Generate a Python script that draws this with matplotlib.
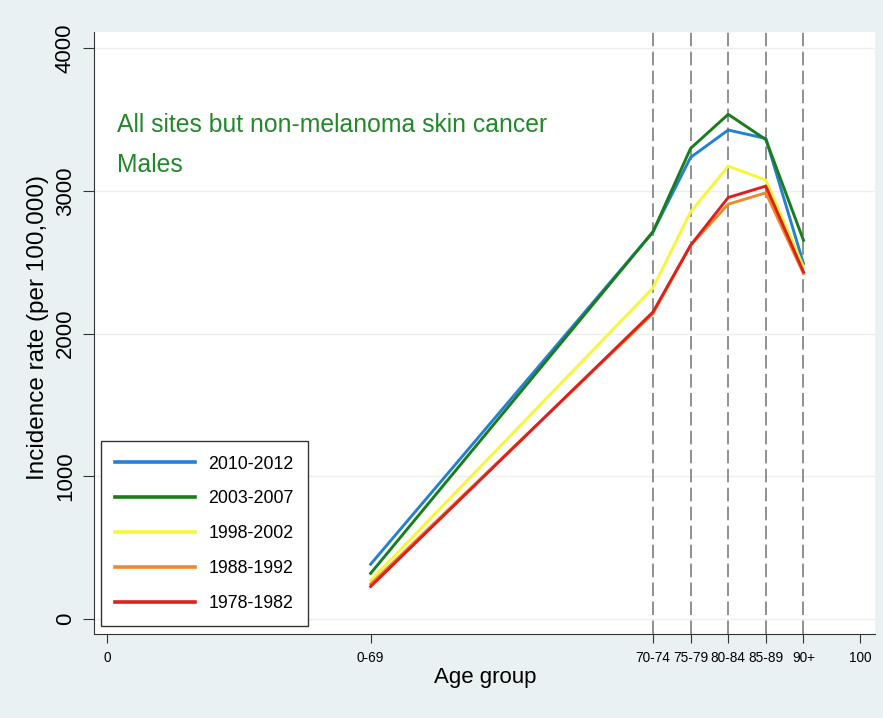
import numpy as np
import matplotlib
matplotlib.use('Agg')
import matplotlib.pyplot as plt

plt.rcParams['font.family'] = ['Liberation Sans', 'DejaVu Sans']

# age group positions on the numeric axis and their labels
age_pos = [35, 72.5, 77.5, 82.5, 87.5, 92.5]
age_labels = ['0-69', '70-74', '75-79', '80-84', '85-89', '90+']

periods = ['2010-2012', '2003-2007', '1998-2002', '1988-1992', '1978-1982']
rate_2010 = [384, 2713, 3235, 3427, 3368, 2491]
rate_2003 = [320, 2713, 3298, 3537, 3360, 2654]
rate_1998 = [270, 2320, 2853, 3174, 3076, 2467]
rate_1988 = [245, 2140, 2619, 2907, 2987, 2421]
rate_1978 = [228, 2151, 2619, 2954, 3034, 2432]

series = [rate_2010, rate_2003, rate_1998, rate_1988, rate_1978]
colors = ['#2281d4', '#1a7d1a', '#f7f73a', '#ef8a2a', '#e01e1e']

W, H = 883, 718
L, R, T, B = 94, 875, 32, 634
fig = plt.figure(figsize=(W / 100, H / 100), dpi=100)
fig.patch.set_facecolor('#eaf1f3')
ax = fig.add_axes([L / W, (H - B) / H, (R - L) / W, (B - T) / H])
ax.set_facecolor('white')

ax.set_xlim(-1.75, 102)
ax.set_ylim(-105, 4114)

for v in [0, 1000, 2000, 3000, 4000]:
    ax.axhline(v, color='#eeeeee', lw=1.0, zorder=1)

for xp in age_pos[1:]:
    ax.axvline(xp, color='#888888', lw=1.3, ls=(0, (7.5, 3.0)), zorder=2)

for vals, col, lab in zip(series, colors, periods):
    ax.plot(age_pos, vals, color=col, lw=2.1, label=lab, zorder=3)

for s in ['top', 'right']:
    ax.spines[s].set_visible(False)
ax.spines['left'].set_color('#333333')
ax.spines['bottom'].set_color('#333333')

ax.set_yticks([0, 1000, 2000, 3000, 4000])
ax.set_yticklabels(['0', '1000', '2000', '3000', '4000'], rotation=90, va='center', fontsize=16)
ax.tick_params(axis='y', length=8, pad=5, color='#333333')

ax.set_xticks([0] + age_pos + [100])
ax.set_xticklabels(['0'] + age_labels + ['100'], fontsize=9.8)
ax.tick_params(axis='x', length=6.5, pad=6, color='#333333')

fig.text(485 / W, (H - 683) / H, 'Age group', fontsize=16, ha='center', va='baseline')
fig.text(38 / W, (H - 327.5) / H, 'Incidence rate (per 100,000)', fontsize=17.5,
         rotation=90, ha='center', va='center')

ax.text(0.0294, 0.834, 'All sites but non-melanoma skin cancer', transform=ax.transAxes,
        color='#22882a', fontsize=17.8, va='baseline')
ax.text(0.0294, 0.767, 'Males', transform=ax.transAxes,
        color='#22882a', fontsize=17.8, va='baseline')

leg = ax.legend(loc='lower left', bbox_to_anchor=(6.7 / (R - L), 8 / (B - T)), borderaxespad=0,
                fontsize=12.8, handlelength=4.5, handletextpad=0.75, labelspacing=1.0,
                borderpad=0.8, fancybox=False, edgecolor='#333333', framealpha=1)
leg.get_frame().set_linewidth(1.0)
for ln in leg.get_lines():
    ln.set_linewidth(2.6)

fig.savefig('out.png', dpi=100, facecolor=fig.get_facecolor())
